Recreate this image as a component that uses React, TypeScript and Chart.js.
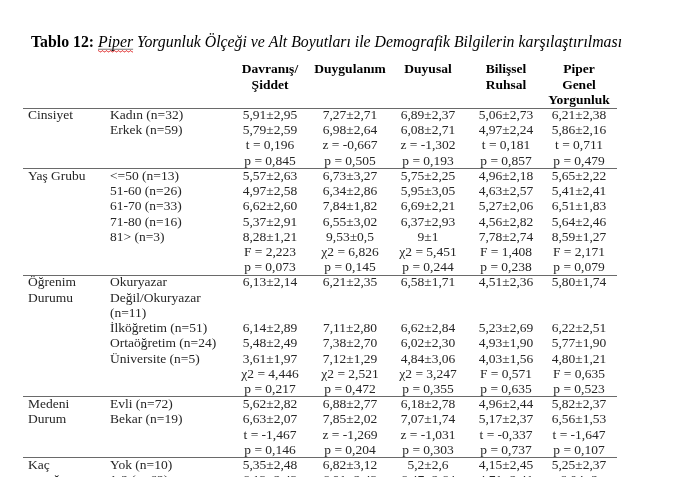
import { useEffect, useRef } from "react";
import { Chart, registerables } from "chart.js";

Chart.register(...registerables);

// ---- Table content ----
const titleBold = "Tablo 12: ";
const titleItalicWord = "Piper";
const titleItalicRest = " Yorgunluk Ölçeği ve Alt Boyutları ile Demografik Bilgilerin karşılaştırılması";

const headerDavranis = ["Davranış/", "Şiddet"];
const headerDuygulanim = ["Duygulanım"];
const headerDuyusal = ["Duyusal"];
const headerBilissel = ["Bilişsel", "Ruhsal"];
const headerPiper = ["Piper", "Genel", "Yorgunluk"];

const groupLabels = [
  "Cinsiyet", "", "", "",
  "Yaş Grubu", "", "", "", "", "", "",
  "Öğrenim", "Durumu", "", "", "", "", "", "",
  "Medeni", "Durum", "", "",
  "Kaç", "çocuğunuz",
];

const subgroupLabels = [
  "Kadın (n=32)", "Erkek (n=59)", "", "",
  "<=50 (n=13)", "51-60 (n=26)", "61-70 (n=33)", "71-80 (n=16)", "81> (n=3)", "", "",
  "Okuryazar", "Değil/Okuryazar", "(n=11)", "İlköğretim (n=51)", "Ortaöğretim (n=24)", "Üniversite (n=5)", "", "",
  "Evli (n=72)", "Bekar (n=19)", "", "",
  "Yok (n=10)", "1-2 (n=62)",
];

const davranisValues = [
  "5,91±2,95", "5,79±2,59", "t = 0,196", "p = 0,845",
  "5,57±2,63", "4,97±2,58", "6,62±2,60", "5,37±2,91", "8,28±1,21", "F = 2,223", "p = 0,073",
  "6,13±2,14", "", "", "6,14±2,89", "5,48±2,49", "3,61±1,97", "χ2 = 4,446", "p = 0,217",
  "5,62±2,82", "6,63±2,07", "t = -1,467", "p = 0,146",
  "5,35±2,48", "6,13±2,43",
];

const duygulanimValues = [
  "7,27±2,71", "6,98±2,64", "z = -0,667", "p = 0,505",
  "6,73±3,27", "6,34±2,86", "7,84±1,82", "6,55±3,02", "9,53±0,5", "χ2 = 6,826", "p = 0,145",
  "6,21±2,35", "", "", "7,11±2,80", "7,38±2,70", "7,12±1,29", "χ2 = 2,521", "p = 0,472",
  "6,88±2,77", "7,85±2,02", "z = -1,269", "p = 0,204",
  "6,82±3,12", "6,91±2,43",
];

const duyusalValues = [
  "6,89±2,37", "6,08±2,71", "z = -1,302", "p = 0,193",
  "5,75±2,25", "5,95±3,05", "6,69±2,21", "6,37±2,93", "9±1", "χ2 = 5,451", "p = 0,244",
  "6,58±1,71", "", "", "6,62±2,84", "6,02±2,30", "4,84±3,06", "χ2 = 3,247", "p = 0,355",
  "6,18±2,78", "7,07±1,74", "z = -1,031", "p = 0,303",
  "5,2±2,6", "6,47±2,64",
];

const bilisselValues = [
  "5,06±2,73", "4,97±2,24", "t = 0,181", "p = 0,857",
  "4,96±2,18", "4,63±2,57", "5,27±2,06", "4,56±2,82", "7,78±2,74", "F = 1,408", "p = 0,238",
  "4,51±2,36", "", "", "5,23±2,69", "4,93±1,90", "4,03±1,56", "F = 0,571", "p = 0,635",
  "4,96±2,44", "5,17±2,37", "t = -0,337", "p = 0,737",
  "4,15±2,45", "4,71±2,41",
];

const piperValues = [
  "6,21±2,38", "5,86±2,16", "t = 0,711", "p = 0,479",
  "5,65±2,22", "5,41±2,41", "6,51±1,83", "5,64±2,46", "8,59±1,27", "F = 2,171", "p = 0,079",
  "5,80±1,74", "", "", "6,22±2,51", "5,77±1,90", "4,80±1,21", "F = 0,635", "p = 0,523",
  "5,82±2,37", "6,56±1,53", "t = -1,647", "p = 0,107",
  "5,25±2,37", "6,04±2",
];

// rows after which a horizontal rule is drawn
const separatorAfterRows = [3, 10, 18, 22];

// ---- Layout (positions / styles) ----
const W = 680;
const H = 477;
const ROW0 = 115.5;
const PITCH = 15.22;
const colX = [28, 110, 270, 350, 428, 506, 579];
const ruleX0 = 23;
const ruleX1 = 617;
const FONT = '"Liberation Serif", "Times New Roman", serif';
const BODY_PX = 13.5;
const TITLE_PX = 15.8;

export default function App() {
  const ref = useRef<HTMLCanvasElement>(null);

  useEffect(() => {
    document.body.style.margin = "0";
    const canvas = ref.current;
    if (!canvas) return;

    const columns = [
      groupLabels, subgroupLabels, davranisValues, duygulanimValues,
      duyusalValues, bilisselValues, piperValues,
    ];
    const headers = [null, null, headerDavranis, headerDuygulanim, headerDuyusal, headerBilissel, headerPiper];

    const datasets: any[] = [];
    columns.forEach((col, c) => {
      const pts: any[] = [];
      const texts: string[] = [];
      col.forEach((t, r) => {
        if (t) {
          pts.push({ x: colX[c], y: r });
          texts.push(t);
        }
      });
      datasets.push({
        label: "col" + c,
        data: pts,
        texts,
        align: c < 2 ? "left" : "center",
        bold: false,
        pointRadius: 0,
        showLine: false,
      });
    });
    headers.forEach((h, c) => {
      if (!h) return;
      datasets.push({
        label: "hdr" + c,
        data: h.map((_, i) => ({ x: colX[c], y: -3 + i })),
        texts: h,
        align: "center",
        bold: true,
        pointRadius: 0,
        showLine: false,
      });
    });

    const tablePlugin = {
      id: "tableText",
      afterDatasetsDraw(chart: any) {
        const ctx = chart.ctx as CanvasRenderingContext2D;
        const xs = chart.scales.x;
        const ys = chart.scales.y;
        ctx.save();

        // Title
        const ty = ys.getPixelForValue(-4.78);
        let tx = xs.getPixelForValue(31);
        ctx.textBaseline = "middle";
        ctx.textAlign = "left";
        ctx.fillStyle = "#000";
        ctx.font = `bold ${TITLE_PX}px ${FONT}`;
        ctx.fillText(titleBold, tx, ty);
        tx += ctx.measureText(titleBold).width;
        ctx.font = `italic ${TITLE_PX}px ${FONT}`;
        const pw = ctx.measureText(titleItalicWord).width;
        ctx.fillText(titleItalicWord, tx, ty);
        // underline + red spell-check squiggle under "Piper"
        ctx.strokeStyle = "#555";
        ctx.lineWidth = 0.8;
        ctx.beginPath();
        ctx.moveTo(tx, ty + 6.5);
        ctx.lineTo(tx + pw, ty + 6.5);
        ctx.stroke();
        ctx.strokeStyle = "#e03030";
        ctx.lineWidth = 0.9;
        ctx.beginPath();
        for (let sx = 0; sx <= pw; sx += 1) {
          const sy = ty + 8 + (Math.floor(sx / 2) % 2 === 0 ? 0 : 1.2);
          if (sx === 0) ctx.moveTo(tx + sx, sy);
          else ctx.lineTo(tx + sx, sy);
        }
        ctx.stroke();
        tx += pw;
        ctx.fillStyle = "#000";
        ctx.fillText(titleItalicRest, tx, ty);

        // Rules
        ctx.strokeStyle = "#6a6a6a";
        ctx.lineWidth = 1;
        const rules = [-0.5, ...separatorAfterRows.map((r) => r + 0.45)];
        rules.forEach((r) => {
          const y = Math.round(ys.getPixelForValue(r)) + 0.5;
          ctx.beginPath();
          ctx.moveTo(xs.getPixelForValue(ruleX0), y);
          ctx.lineTo(xs.getPixelForValue(ruleX1), y);
          ctx.stroke();
        });

        // Cells
        chart.data.datasets.forEach((ds: any, i: number) => {
          const meta = chart.getDatasetMeta(i);
          ctx.font = `${ds.bold ? "bold " : ""}${BODY_PX}px ${FONT}`;
          ctx.fillStyle = ds.bold ? "#000" : "#262626";
          ctx.textAlign = ds.align;
          ctx.textBaseline = "middle";
          meta.data.forEach((el: any, j: number) => {
            ctx.fillText(ds.texts[j], el.x, el.y);
          });
        });
        ctx.restore();
      },
    };

    const chart = new Chart(canvas, {
      type: "scatter",
      data: { datasets },
      options: {
        responsive: false,
        animation: false,
        events: [],
        layout: { padding: 0, autoPadding: false },
        plugins: { legend: { display: false }, tooltip: { enabled: false } },
        scales: {
          x: { type: "linear", min: 0, max: W, display: false },
          y: {
            type: "linear",
            min: -ROW0 / PITCH,
            max: (H - ROW0) / PITCH,
            reverse: true,
            display: false,
          },
        },
      } as any,
      plugins: [tablePlugin],
    });

    return () => chart.destroy();
  }, []);

  return (
    <canvas
      ref={ref}
      width={W}
      height={H}
      style={{ display: "block", width: W, height: H, background: "#fff" }}
    />
  );
}
